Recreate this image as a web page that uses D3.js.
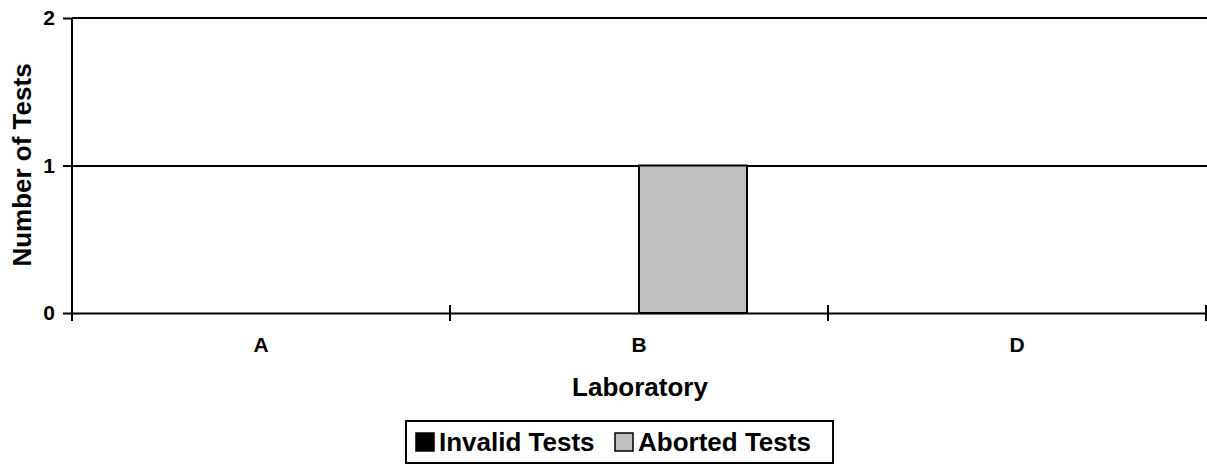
<!DOCTYPE html>
<html>
<head>
<meta charset="utf-8">
<script src="https://cdn.jsdelivr.net/npm/d3@7"></script>
<style>
  html, body { margin: 0; padding: 0; background: #fff; }
  svg { display: block; }
  text { font-family: "Liberation Sans", Arial, sans-serif; font-weight: bold; fill: #000; }
  .tick text { font-family: "Liberation Sans", Arial, sans-serif !important; font-weight: bold !important; font-size: 21px !important; }
</style>
</head>
<body>
<svg id="chart" width="1207" height="466"></svg>
<script>
const categories = ["A", "B", "D"];
const seriesNames = ["Invalid Tests", "Aborted Tests"];
const invalidTests = [0, 0, 0];
const abortedTests = [0, 1, 0];
const yTicks = [0, 1, 2];
const seriesColors = ["#000000", "#c0c0c0"];

const svg = d3.select("#chart");
const margin = { left: 72, right: 1206, top: 18, bottom: 313 };

const x = d3.scaleBand().domain(categories).range([margin.left, margin.right]).paddingInner(0).paddingOuter(0);
const y = d3.scaleLinear().domain([0, 2]).range([margin.bottom, margin.top]);

// inner band for series: gap width 150%
const bw = x.bandwidth() / 3.5;
const xs = d3.scaleBand().domain(seriesNames).range([0, 2 * bw]);

// gridlines
svg.append("g").selectAll("line").data(yTicks.filter(d => d > 0)).join("line")
  .attr("x1", margin.left).attr("x2", 1207)
  .attr("y1", d => Math.round(y(d))).attr("y2", d => Math.round(y(d)))
  .attr("stroke", "#000").attr("stroke-width", 2);

// bars
const data = categories.map((c, i) => ({ cat: c, vals: [invalidTests[i], abortedTests[i]] }));
const groups = svg.append("g").selectAll("g").data(data).join("g")
  .attr("transform", d => `translate(${x(d.cat) + x.bandwidth() / 2 - bw},0)`);
groups.selectAll("rect").data(d => d.vals.map((v, j) => ({ v, s: seriesNames[j], j })))
  .join("rect")
  .filter(d => d.v > 0)
  .attr("x", d => xs(d.s))
  .attr("width", xs.bandwidth())
  .attr("y", d => y(d.v))
  .attr("height", d => y(0) - y(d.v))
  .attr("fill", d => seriesColors[d.j])
  .attr("stroke", "#000").attr("stroke-width", 2);

// y axis
const yAxis = svg.append("g").attr("transform", `translate(${margin.left},0)`)
  .call(d3.axisLeft(y).tickValues(yTicks).tickFormat(d3.format("d")).tickSizeInner(9).tickSizeOuter(0).tickPadding(8));
yAxis.attr("font-size", null).attr("font-family", null);
yAxis.select(".domain").attr("stroke", "#000").attr("stroke-width", 2);
yAxis.selectAll(".tick line").attr("stroke", "#000").attr("stroke-width", 2);
yAxis.selectAll(".tick text").attr("fill", "#000");
yAxis.select(".domain").attr("d", `M0,${margin.top}V${margin.bottom + 8}`);

// x axis
const xAxis = svg.append("g").attr("transform", `translate(0,${margin.bottom})`)
  .call(d3.axisBottom(x).tickSize(0).tickPadding(24));
xAxis.attr("font-size", null).attr("font-family", null);
xAxis.select(".domain").attr("stroke", "#000").attr("stroke-width", 2);
xAxis.selectAll(".tick text").attr("fill", "#000");
const bounds = categories.map(c => x(c)).concat([x.range()[1]]);
xAxis.append("g").selectAll("line").data(bounds).join("line")
  .attr("x1", d => d).attr("x2", d => d).attr("y1", -8).attr("y2", 8)
  .attr("stroke", "#000").attr("stroke-width", 2);

// axis titles
svg.append("text").attr("x", 640).attr("y", 396).attr("text-anchor", "middle")
  .style("font-size", "26px").text("Laboratory");
svg.append("text").attr("transform", "translate(31,165) rotate(-90)").attr("text-anchor", "middle")
  .style("font-size", "26px").text("Number of Tests");

// legend
const lg = svg.append("g");
lg.append("rect").attr("x", 406).attr("y", 421).attr("width", 427).attr("height", 42)
  .attr("fill", "#fff").attr("stroke", "#000").attr("stroke-width", 2);
const legendX = [416, 615];
seriesNames.forEach((s, i) => {
  lg.append("rect").attr("x", legendX[i]).attr("y", 433).attr("width", 18).attr("height", 18)
    .attr("fill", seriesColors[i]).attr("stroke", "#000").attr("stroke-width", 1.5);
  lg.append("text").attr("x", legendX[i] + 23).attr("y", 451).style("font-size", "26px").text(s);
});
</script>
</body>
</html>
